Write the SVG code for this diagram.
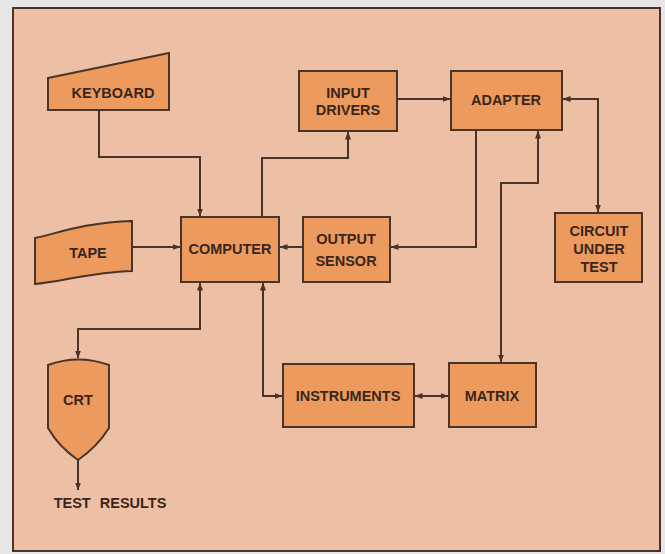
<svg xmlns="http://www.w3.org/2000/svg" width="665" height="554" viewBox="0 0 665 554">
<style>
.node{fill:#ec9a5e;stroke:#4a3328;stroke-width:2;stroke-linejoin:miter}
.lbl{font-family:"Liberation Sans",Arial,sans-serif;font-weight:bold;font-size:14.5px;fill:#3a261c;text-anchor:middle}
.conn{fill:none;stroke:#4a3328;stroke-width:2}
</style>
<defs>
<marker id="ah" markerUnits="userSpaceOnUse" markerWidth="8" markerHeight="7" refX="7.5" refY="3" orient="auto">
<path d="M0,0 L8,3 L0,6 z" fill="#4a3328"/>
</marker>
<marker id="as" markerUnits="userSpaceOnUse" markerWidth="8" markerHeight="7" refX="0.5" refY="3" orient="auto">
<path d="M8,0 L0,3 L8,6 z" fill="#4a3328"/>
</marker>
</defs>
<rect x="0" y="0" width="665" height="554" fill="#e7e5e6"/>
<rect x="13" y="8" width="647" height="543" fill="#edbfa4" stroke="#4a3328" stroke-width="2"/>
<g id="connectors">
<path class="conn" d="M99,110 V157 H200 V216" marker-end="url(#ah)"/>
<path class="conn" d="M132,247 H180" marker-end="url(#ah)"/>
<path class="conn" d="M303,247 H280" marker-end="url(#ah)"/>
<path class="conn" d="M262,217 V158 H348 V132" marker-end="url(#ah)"/>
<path class="conn" d="M397,99 H450" marker-end="url(#ah)"/>
<path class="conn" d="M476,130 V247 H391" marker-end="url(#ah)"/>
<path class="conn" d="M538,131 V183 H501 V362" marker-start="url(#as)" marker-end="url(#ah)"/>
<path class="conn" d="M563,99 H598 V212" marker-start="url(#as)" marker-end="url(#ah)"/>
<path class="conn" d="M200,283 V329 H78 V358" marker-start="url(#as)" marker-end="url(#ah)"/>
<path class="conn" d="M78,460 V490" marker-end="url(#ah)"/>
<path class="conn" d="M263,283 V396 H282" marker-start="url(#as)" marker-end="url(#ah)"/>
<path class="conn" d="M415,396 H448" marker-start="url(#as)" marker-end="url(#ah)"/>
</g>
<g id="keyboard">
<path class="node" d="M48,78 L169,53 V110 H48 Z"/>
<text class="lbl" x="113" y="98">KEYBOARD</text>
</g>
<g id="tape">
<path class="node" d="M35,238 C52,235 85,222 132,221 V271 C92,272 60,282 35,284 Z"/>
<text class="lbl" x="88" y="258">TAPE</text>
</g>
<g id="computer">
<rect class="node" x="181" y="217" width="98" height="65"/>
<text class="lbl" x="230" y="254">COMPUTER</text>
</g>
<g id="output-sensor">
<rect class="node" x="303" y="217" width="87" height="65"/>
<text class="lbl" x="346" y="244">OUTPUT</text>
<text class="lbl" x="346" y="266">SENSOR</text>
</g>
<g id="input-drivers">
<rect class="node" x="299" y="71" width="98" height="60"/>
<text class="lbl" x="348" y="98">INPUT</text>
<text class="lbl" x="348" y="115">DRIVERS</text>
</g>
<g id="adapter">
<rect class="node" x="451" y="71" width="111" height="59"/>
<text class="lbl" x="506" y="105">ADAPTER</text>
</g>
<g id="circuit-under-test">
<rect class="node" x="555" y="213" width="87" height="69"/>
<text class="lbl" x="599" y="236">CIRCUIT</text>
<text class="lbl" x="599" y="254">UNDER</text>
<text class="lbl" x="599" y="272">TEST</text>
</g>
<g id="crt">
<path class="node" d="M48,365 Q78,354 109,365 V428 Q97,447 78,460 Q59,447 48,428 Z"/>
<text class="lbl" x="78" y="405">CRT</text>
</g>
<g id="instruments">
<rect class="node" x="283" y="364" width="131" height="63"/>
<text class="lbl" x="348" y="401">INSTRUMENTS</text>
</g>
<g id="matrix">
<rect class="node" x="449" y="363" width="87" height="64"/>
<text class="lbl" x="492" y="401">MATRIX</text>
</g>
<text class="lbl" x="110" y="508" style="word-spacing:5px">TEST RESULTS</text>
</svg>
